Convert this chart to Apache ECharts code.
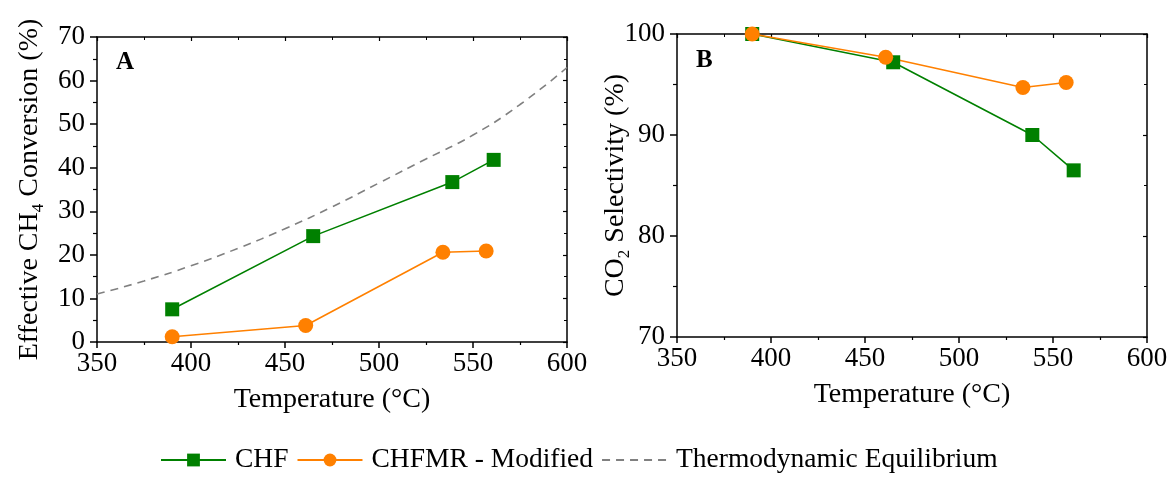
<!DOCTYPE html>
<html>
<head>
<meta charset="utf-8">
<script src="https://cdn.jsdelivr.net/npm/echarts@6/dist/echarts.min.js"></script>
<style>html,body{margin:0;padding:0;background:#fff;}#c{width:1175px;height:480px;}</style>
</head>
<body>
<div id="c"></div>
<script>
// ---- data ----
const tempsCHF = [390, 465, 539, 561];
const tempsCHFMR = [390, 461, 534, 557];
const convCHF = [7.5, 24.3, 36.7, 41.8];
const convCHFMR = [1.2, 3.8, 20.6, 20.9];
const selCHF = [100, 97.2, 90.0, 86.5];
const selCHFMR = [100, 97.7, 94.7, 95.2];
const eqTemps = [350, 375, 400, 425, 450, 475, 500, 525, 550, 575, 600];
const eqConv = [11.0, 14.0, 17.5, 21.5, 26.0, 31.0, 36.5, 42.0, 47.5, 54.5, 63.0];
const seriesNames = ['CHF', 'CHFMR - Modified', 'Thermodynamic Equilibrium'];

const FONT = 'Liberation Serif';
const GREEN = '#008000', ORANGE = '#ff8000', GREY = '#808080';
const TICK_FS = 27, TITLE_FS = 28;
const pairs = (xs, ys) => xs.map((x, i) => [x, ys[i]]);

function xAxes(gi) {
  return [
    { type: 'value', gridIndex: gi, position: 'bottom', min: 350, max: 600, interval: 50,
      name: 'Temperature (°C)', nameLocation: 'middle', nameGap: 44,
      nameTextStyle: { fontFamily: FONT, fontSize: TITLE_FS, color: '#000' },
      axisLine: { lineStyle: { color: '#000', width: 1.5 } },
      axisTick: { show: true, length: 6, lineStyle: { color: '#000', width: 1.5 } },
      minorTick: { show: true, splitNumber: 2, length: 3, lineStyle: { color: '#000', width: 1.2 } },
      axisLabel: { fontFamily: FONT, fontSize: TICK_FS, color: '#000', margin: 8 },
      splitLine: { show: false } },
    { type: 'value', gridIndex: gi, position: 'top', min: 350, max: 600, interval: 50,
      axisLine: { show: true, onZero: false, lineStyle: { color: '#000', width: 1.5 } },
      axisTick: { show: true, inside: true, length: 4, lineStyle: { color: '#000', width: 1.2 } },
      minorTick: { show: true, splitNumber: 2, length: 3, lineStyle: { color: '#000', width: 1 } },
      axisLabel: { show: false }, splitLine: { show: false } }
  ];
}
function yAxes(gi, min, max, nameRich, gap) {
  return [
    { type: 'value', gridIndex: gi, position: 'left', min: min, max: max, interval: 10,
      name: nameRich.text, nameLocation: 'middle', nameGap: gap, nameRotate: 90,
      nameMoveOverlap: false,
      nameTextStyle: { fontFamily: FONT, fontSize: TITLE_FS, color: '#000', rich: nameRich.rich },
      axisLine: { show: true, onZero: false, lineStyle: { color: '#000', width: 1.5 } },
      axisTick: { show: true, length: 7, lineStyle: { color: '#000', width: 1.5 } },
      minorTick: { show: true, splitNumber: 2, length: 4, lineStyle: { color: '#000', width: 1.2 } },
      axisLabel: { fontFamily: FONT, fontSize: TICK_FS, color: '#000', margin: 12 },
      splitLine: { show: false } },
    { type: 'value', gridIndex: gi, position: 'right', min: min, max: max, interval: 10,
      axisLine: { show: true, onZero: false, lineStyle: { color: '#000', width: 1.5 } },
      axisTick: { show: true, inside: true, length: 4, lineStyle: { color: '#000', width: 1.2 } },
      minorTick: { show: true, splitNumber: 2, length: 3, lineStyle: { color: '#000', width: 1 } },
      axisLabel: { show: false }, splitLine: { show: false } }
  ];
}
const richStyles = {
  a: { fontFamily: FONT, fontSize: TITLE_FS, color: '#000', lineHeight: 34 },
  s: { fontFamily: FONT, fontSize: 17, color: '#000', lineHeight: 10, verticalAlign: 'bottom' }
};
const leftName = { text: '{a|Effective CH}{s|4}{a| Conversion (%)}', rich: richStyles };
const rightName = { text: '{a|CO}{s|2}{a| Selectivity (%)}', rich: richStyles };

function lineSeries(name, data, xi, yi, color, symbol, size) {
  return { name: name, type: 'line', xAxisIndex: xi, yAxisIndex: yi, data: data,
    symbol: symbol, symbolSize: size, showSymbol: true,
    lineStyle: { color: color, width: 1.6 }, itemStyle: { color: color }, z: 3 };
}

const chart = echarts.init(document.getElementById('c'), null, { renderer: 'canvas' });
chart.setOption({
  animation: false,
  backgroundColor: '#fff',
  grid: [
    { left: 97, right: 608, top: 37, bottom: 138 },
    { left: 677, right: 28, top: 34, bottom: 143 }
  ],
  xAxis: xAxes(0).concat(xAxes(1)),
  yAxis: yAxes(0, 0, 70, leftName, 50).concat(yAxes(1, 70, 100, rightName, 44)),
  graphic: [
    { type: 'text', left: 116, top: 50, style: { text: 'A', fontFamily: FONT, fontSize: 25, fontWeight: 'bold', fill: '#000' } },
    { type: 'text', left: 696, top: 48, style: { text: 'B', fontFamily: FONT, fontSize: 25, fontWeight: 'bold', fill: '#000' } }
  ],
  legend: {
    bottom: 1, left: 155, itemWidth: 65, itemHeight: 16, itemGap: 8,
    data: [
      { name: seriesNames[0] },
      { name: seriesNames[1] },
      { name: seriesNames[2], itemStyle: { opacity: 0 } }
    ],
    textStyle: { fontFamily: FONT, fontSize: 27.5, color: '#000', padding: [0, 0, 0, 4] }
  },
  series: [
    { name: seriesNames[2], type: 'line', xAxisIndex: 0, yAxisIndex: 0, data: pairs(eqTemps, eqConv),
      smooth: true, showSymbol: false, symbol: 'none',
      lineStyle: { color: GREY, width: 1.6, type: [8, 6] }, itemStyle: { color: GREY }, z: 2 },
    lineSeries(seriesNames[0], pairs(tempsCHF, convCHF), 0, 0, GREEN, 'rect', 14),
    lineSeries(seriesNames[1], pairs(tempsCHFMR, convCHFMR), 0, 0, ORANGE, 'circle', 15),
    lineSeries(seriesNames[0], pairs(tempsCHF, selCHF), 2, 2, GREEN, 'rect', 14),
    lineSeries(seriesNames[1], pairs(tempsCHFMR, selCHFMR), 2, 2, ORANGE, 'circle', 15)
  ]
});
</script>
</body>
</html>
